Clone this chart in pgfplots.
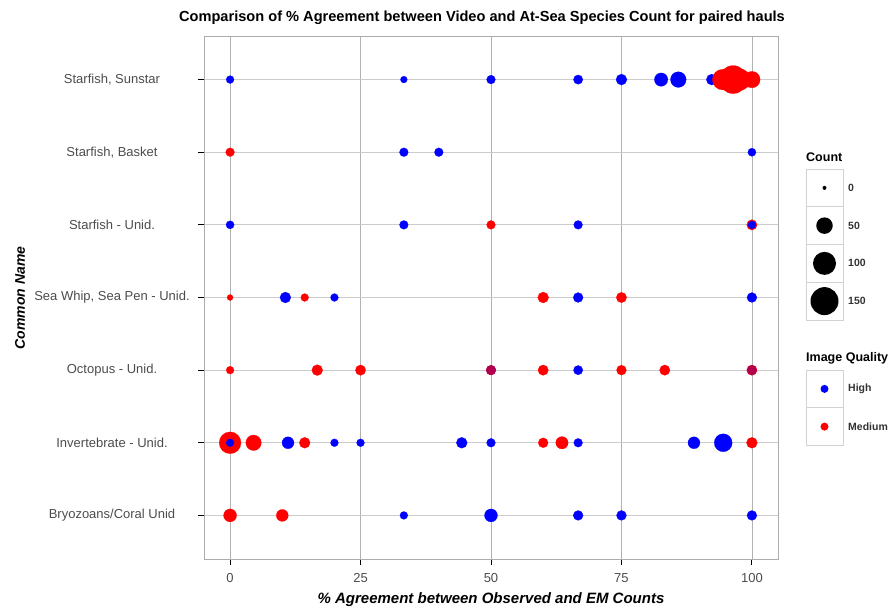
\documentclass[border=0pt]{standalone}
\usepackage{pgfplots}
\pgfplotsset{compat=1.18}
\usepackage{pgfplotstable}
\usepackage{fontspec}
\setmainfont{Liberation Sans}

% x = % agreement, y = category row (1 = Bryozoans ... 7 = Starfish, Sunstar), c = count
\pgfplotstableread{
x y c
0 7 9
33.3 7 6
50 7 12
66.7 7 14
75 7 20
82.6 7 32
85.9 7 45
92.3 7 20
33.3 6 12
40 6 12
100 6 10
0 5 10
33.3 5 12
66.7 5 12
10.6 4 20
20 4 9
66.7 4 16
100 4 16
50 3 14
66.7 3 14
100 3 14
11.1 2 25
20 2 9
25 2 9
44.4 2 20
50 2 12
66.7 2 12
88.9 2 25
94.5 2 60
33.3 1 9
50 1 30
66.7 1 16
75 1 16
100 1 16
}\highA

\pgfplotstableread{
x y c
94.4 7 80
96.4 7 150
97.6 7 90
100 7 50
0 6 12
50 5 12
100 5 18
0 4 4
14.3 4 9
60 4 20
75 4 18
0 3 9
16.7 3 20
25 3 18
50 3 16
60 3 18
75 3 16
83.3 3 18
100 3 18
0 2 90
4.5 2 44
14.3 2 20
60 2 16
63.6 2 27
100 2 20
0 1 30
10 1 25
}\medium

\pgfplotstableread{
x y c
0 2 9
100 5 9
}\highB

\pgfplotstableread{
x y c
50 3 14
100 3 14
}\highC

\pgfplotsset{
  bub/.style={scatter, only marks, mark=*, point meta=\thisrow{c},
    scatter/use mapped color={draw=#1, fill=#1},
    visualization depends on={sqrt(16+5.12*\thisrow{c})/2 \as \rad},
    scatter/@pre marker code/.append style={/tikz/mark size=\rad},
    line width=0.2pt},
}

\begin{document}
\begin{tikzpicture}[x=1pt,y=1pt]
\useasboundingbox (0,0) rectangle (892,611);
\begin{axis}[
  at={(204pt,52pt)}, anchor=south west,
  scale only axis, width=574pt, height=523pt,
  xmin=-5, xmax=105, ymin=0.4, ymax=7.6,
  xtick={0,25,50,75,100},
  ytick={1,2,3,4,5,6,7},
  yticklabels={Bryozoans/Coral Unid, Invertebrate - Unid., Octopus - Unid., {Sea Whip, Sea Pen - Unid.}, Starfish - Unid., {Starfish, Basket}, {Starfish, Sunstar}},
  tick pos=left, tick align=outside, major tick length=6pt,
  tick style={black, line width=0.9pt},
  xmajorgrids, ymajorgrids,
  x grid style={gray!60, line width=0.8pt},
  y grid style={gray!40, line width=0.8pt},
  axis line style={gray!65, line width=0.9pt},
  ticklabel style={font=\fontsize{13}{15}\selectfont, text=black!70},
  /pgf/number format/assume math mode=true,
  yticklabel style={anchor=center, xshift=-86pt},
  xticklabel style={yshift=-5pt},
]
\addplot[bub=blue] table[x=x, y=y] {\highA};
\addplot[bub=red] table[x=x, y=y] {\medium};
\addplot[bub=blue] table[x=x, y=y] {\highB};
\addplot[bub=blue, opacity=0.3] table[x=x, y=y] {\highC};
\end{axis}

% titles
\node[font=\bfseries\fontsize{14.6}{17}\selectfont] at (482,593) {Comparison of \% Agreement between Video and At-Sea Species Count for paired hauls};
\node[font=\bfseries\itshape\fontsize{15}{18}\selectfont] at (491,11) {\% Agreement between Observed and EM Counts};
\node[rotate=90, font=\bfseries\itshape\fontsize{14}{16}\selectfont] at (20,313) {Common Name};

% legend: Count
\node[anchor=west, inner sep=0pt, font=\bfseries\fontsize{12.5}{15}\selectfont] at (806,454) {Count};
\foreach \i/\d/\l in {0/4/0, 1/16.5/50, 2/23/100, 3/28/150} {
  \pgfmathsetmacro{\top}{442-37.75*\i}
  \pgfmathsetmacro{\mid}{\top-18.875}
  \pgfmathsetmacro{\r}{\d/2}
  \draw[gray!35, fill=white, line width=0.6pt] (806,\top) rectangle (843,\top-37.75);
  \fill[black] (824.5,\mid) circle[radius=\r pt];
  \node[anchor=west, inner sep=0pt, font=\bfseries\fontsize{10.5}{12}\selectfont, text=black!80] at (848,\mid) {\l};
}
% legend: Image Quality
\node[anchor=west, inner sep=0pt, font=\bfseries\fontsize{12.5}{15}\selectfont] at (806,253) {Image Quality};
\foreach \i/\c/\l in {0/blue/High, 1/red/Medium} {
  \pgfmathsetmacro{\top}{241-37.75*\i}
  \pgfmathsetmacro{\mid}{\top-18.875}
  \draw[gray!35, fill=white, line width=0.6pt] (806,\top) rectangle (843,\top-37.75);
  \fill[\c] (824.5,\mid) circle[radius=4pt];
  \node[anchor=west, inner sep=0pt, font=\bfseries\fontsize{10.5}{12}\selectfont, text=black!80] at (848,\mid) {\l};
}
\end{tikzpicture}
\end{document}
